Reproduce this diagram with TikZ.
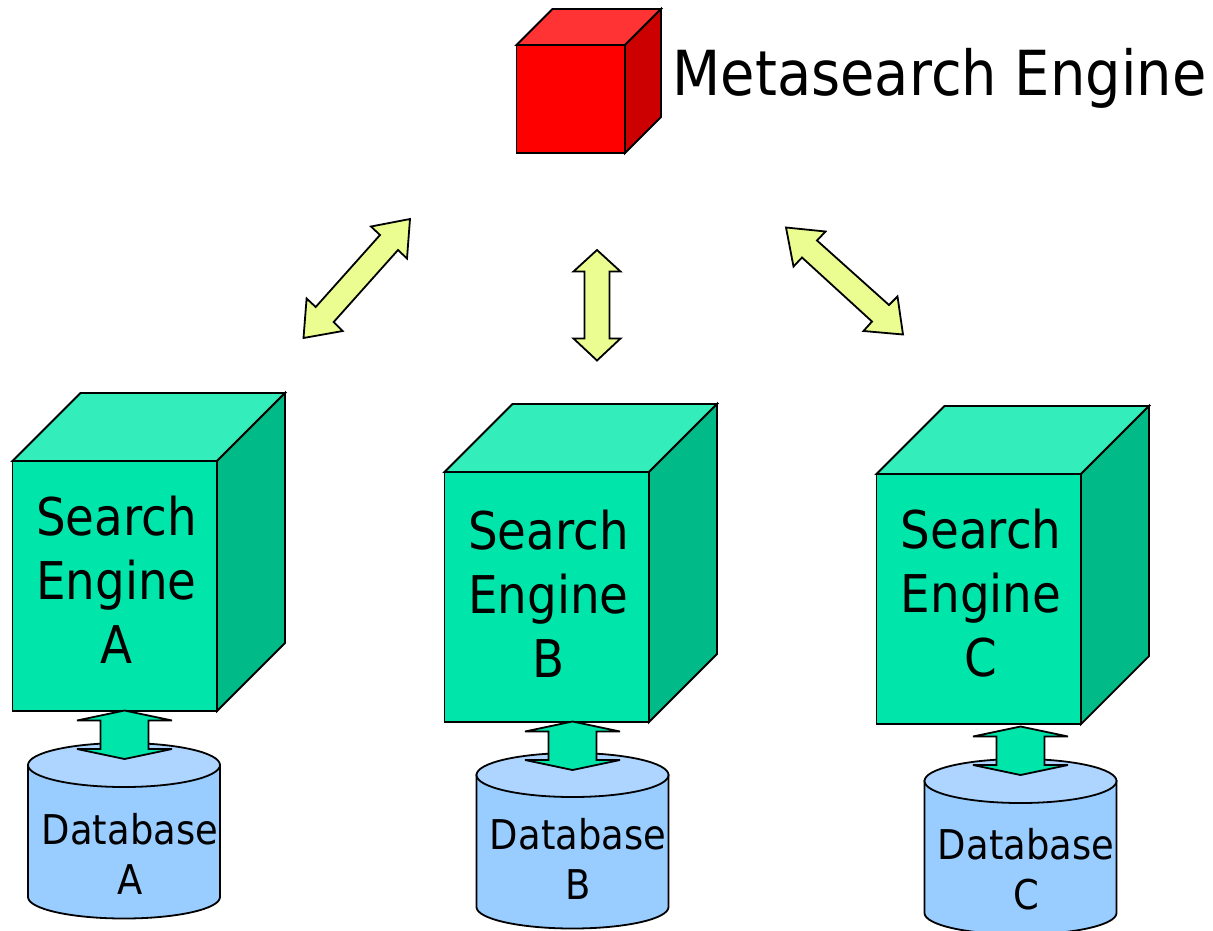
\documentclass[tikz,border=0pt]{standalone}
\usepackage{fontspec}
\setmainfont{DejaVu Sans}[FakeStretch=0.9]
\definecolor{boxfront}{HTML}{00E6AA}
\definecolor{boxtop}{HTML}{33EEBB}
\definecolor{boxside}{HTML}{00BB88}
\definecolor{redfront}{HTML}{FF0000}
\definecolor{redtop}{HTML}{FF3333}
\definecolor{redside}{HTML}{CC0000}
\definecolor{dbbody}{HTML}{99CCFF}
\definecolor{dbtop}{HTML}{ADD5FF}
\definecolor{linkfill}{HTML}{EBFC90}
\tikzset{
  edge/.style={draw=black,line width=1.8pt,line join=miter},
  engtext/.style={align=center,inner sep=0pt,font=\fontsize{52}{64}\selectfont},
  dbtext/.style={align=center,inner sep=0pt,font=\fontsize{41}{50}\selectfont},
  titletext/.style={anchor=base west,inner sep=0pt,font=\fontsize{62.1}{70}\selectfont},
}
% #1 x, #2 y of front top-left, #3 width, #4 height, #5 depth, #6 front, #7 top, #8 side
\newcommand{\cubebox}[8]{%
  \path[edge,fill=#7] (#1,#2) -- ++(#5,-#5) -- ++(#3,0) -- ++(-#5,#5) -- cycle;
  \path[edge,fill=#8] (#1+#3,#2) -- ++(#5,-#5) -- ++(0,#4) -- ++(-#5,#5) -- cycle;
  \path[edge,fill=#6] (#1,#2) rectangle ++(#3,#4);
}
% #1 centre x, #2 centre y of top ellipse
\newcommand{\dbcyl}[2]{%
  \path[edge,fill=dbbody] (#1-96,#2) -- (#1-96,#2+132) arc[start angle=180,end angle=0,x radius=96,y radius=21.5] -- (#1+96,#2) -- cycle;
  \path[edge,fill=dbtop] (#1,#2) ellipse[x radius=96,y radius=22];
}
% #1 centre x, #2 top tip y
\newcommand{\dbarrow}[2]{%
  \path[edge,fill=boxfront,miter limit=4] (#1,#2) -- (#1+47.5,#2+10) -- (#1+24,#2+10) -- (#1+24,#2+38.5) -- (#1+47.5,#2+38.5) -- (#1,#2+48.5) -- (#1-47.5,#2+38.5) -- (#1-24,#2+38.5) -- (#1-24,#2+10) -- (#1-47.5,#2+10) -- cycle;
}
\begin{document}
\begin{tikzpicture}[x=1pt,y=-1pt]
\useasboundingbox (0,0) rectangle (1213,930);
\begin{scope}
\clip (0,0) rectangle (1213,930);
% Metasearch engine
\cubebox{516.5}{45}{108.5}{108}{36}{redfront}{redtop}{redside}
\node[titletext] (meta) at (672.5,95) {Metasearch Engine};
% link arrows
\path[edge,fill=linkfill] (410,219) -- (407,258.5) -- (398,250) -- (333.7,322) -- (342.7,331) -- (303.5,338) -- (306.6,298.5) -- (315.7,307) -- (380,235) -- (371,226.5) -- cycle;
\path[edge,fill=linkfill] (597,250) -- (620.5,271.5) -- (609.5,271.5) -- (609.5,338.5) -- (620.5,338.5) -- (597,360.5) -- (573.5,338.5) -- (584.5,338.5) -- (584.5,271.5) -- (573.5,271.5) -- cycle;
\path[edge,fill=linkfill] (786,227.5) -- (825.5,231.5) -- (817,240.5) -- (889,305) -- (897.5,296.5) -- (903,334.5) -- (863.5,331) -- (872,321.5) -- (802,257.5) -- (793.5,266.5) -- cycle;
% Column A
\dbcyl{124}{765}
\cubebox{12.5}{461}{204.5}{250}{68}{boxfront}{boxtop}{boxside}
\dbarrow{124.5}{710.5}
\node[engtext] (engA) at (116.5,580) {Search\\Engine\\A};
\node[dbtext] (dbA) at (130,853.5) {Database\\A};
% Column B
\dbcyl{572.5}{775}
\cubebox{444.5}{472}{204.5}{250}{68}{boxfront}{boxtop}{boxside}
\dbarrow{572.5}{721.5}
\node[engtext] (engB) at (548.5,593.5) {Search\\Engine\\B};
\node[dbtext] (dbB) at (578,858.5) {Database\\B};
% Column C
\dbcyl{1020.5}{781}
\cubebox{876.5}{474}{204.5}{250}{68}{boxfront}{boxtop}{boxside}
\dbarrow{1020.5}{726.5}
\node[engtext] (engC) at (981,593.5) {Search\\Engine\\C};
\node[dbtext] (dbC) at (1026,869.5) {Database\\C};
\end{scope}
\end{tikzpicture}
\end{document}
